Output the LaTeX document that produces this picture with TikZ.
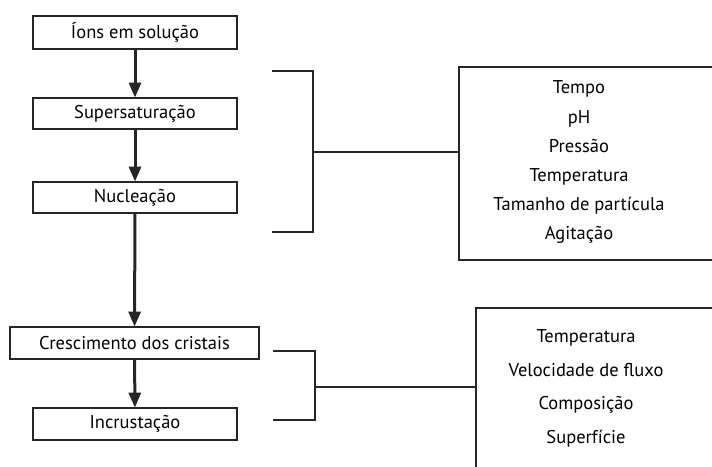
\documentclass[tikz,border=0pt]{standalone}
\usepackage{fontspec}
\setmainfont{PT Sans}
\usetikzlibrary{arrows.meta}
\begin{document}
\begin{tikzpicture}[x=1pt,y=-1pt,
  stage/.style={draw=black!85,line width=1.8pt,fill=white,inner sep=0pt,font=\fontsize{18.5}{20}\selectfont},
  flow/.style={line width=3pt,black!85,-{Triangle[length=15pt,width=12pt]},shorten >=-0.5pt},
  brace/.style={line width=2.2pt,black!85},
  factor/.style={font=\fontsize{18.5}{20}\selectfont,anchor=center,inner sep=0pt,text height=13pt,text depth=4pt}]
\useasboundingbox (0,0) rectangle (712,466);
\begin{scope}
\clip (0,0) rectangle (712,466);
% process stages
\node[stage,minimum width=204pt,minimum height=33pt] (ions) at (135,32.5) {Íons em solução};
\node[stage,minimum width=204pt,minimum height=31pt] (super) at (135,113.5) {Supersaturação};
\node[stage,minimum width=204pt,minimum height=31pt] (nucl) at (135,197.5) {Nucleação};
\node[stage,minimum width=249pt,minimum height=32pt] (cresc) at (134.5,343) {Crescimento dos cristais};
\node[stage,minimum width=204pt,minimum height=32pt] (incr) at (135,424) {Incrustação};
\draw[flow] (ions) -- (super);
\draw[flow] (super) -- (nucl);
\draw[flow] (nucl) -- (cresc);
\draw[flow] (cresc) -- (incr);
% factor boxes (open to the right and below)
\draw[line width=1.8pt,black!85] (730,67) -- (459,67) -- (459,260) -- (730,260);
\draw[line width=1.8pt,black!85] (730,308) -- (476,308) -- (476,480);
\coordinate (fa) at (459,152);
\coordinate (fb) at (476,387);
% brackets
\coordinate (b1t) at (272,71);
\coordinate (b1b) at (272,232);
\coordinate (b1m) at (313,152);
\draw[brace] (b1t) -- (b1t -| b1m) -- (b1b -| b1m) -- (b1b);
\draw[brace] (b1m) -- (fa);
\coordinate (b2t) at (273,351);
\coordinate (b2b) at (273,420);
\coordinate (b2m) at (315,387);
\draw[line width=1.8pt,black!85] (b2t) -- (b2t -| b2m) -- (b2b -| b2m) -- (b2b);
\draw[line width=1.1pt,black!85] (b2m) -- (fb);
% factors
\node[factor] (t1) at (579,89) {Tempo};
\node[factor] (t2) at (579,119) {pH};
\node[factor] (t3) at (579,148) {Pressão};
\node[factor] (t4) at (579,177) {Temperatura};
\node[factor] (t5) at (579,206) {Tamanho de partícula};
\node[factor] (t6) at (579,235) {Agitação};
\node[factor] (u1) at (586,338) {Temperatura};
\node[factor] (u2) at (586,372) {Velocidade de fluxo};
\node[factor] (u3) at (586,405) {Composição};
\node[factor] (u4) at (586,439) {Superfície};
\end{scope}
\end{tikzpicture}
\end{document}
